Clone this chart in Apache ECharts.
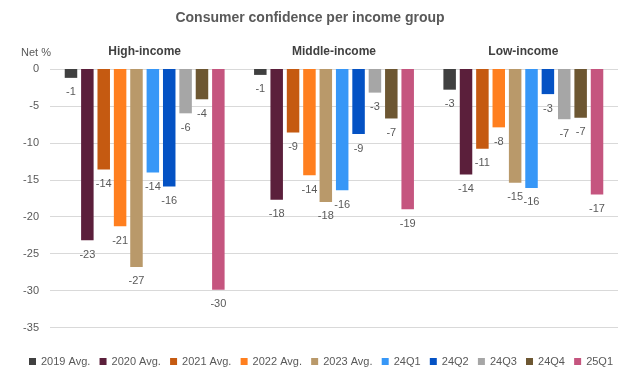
<!DOCTYPE html>
<html>
<head>
<meta charset="utf-8">
<script src="https://cdn.jsdelivr.net/npm/echarts@6/dist/echarts.min.js"></script>
<style>
html,body{margin:0;padding:0;background:#fff;}
#chart{width:620px;height:373px;}
</style>
</head>
<body>
<div id="chart"></div>
<script>
const categories = ['High-income', 'Middle-income', 'Low-income'];
const seriesNames = ['2019 Avg.', '2020 Avg.', '2021 Avg.', '2022 Avg.', '2023 Avg.', '24Q1', '24Q2', '24Q3', '24Q4', '25Q1'];
const highIncome = [-1.2, -23.2, -13.6, -21.3, -26.8, -14.0, -15.9, -6.0, -4.1, -29.9];
const middleIncome = [-0.8, -17.7, -8.6, -14.4, -18.0, -16.4, -8.8, -3.2, -6.7, -19.0];
const lowIncome = [-2.8, -14.3, -10.8, -7.9, -15.4, -16.1, -3.4, -6.8, -6.6, -17.0];
const yTicks = { min: -35, max: 0, interval: 5 };
const colors = ['#404040', '#5b1f3b', '#c55a11', '#ff7f1f', '#b9996a', '#3797f7', '#0452c4', '#a6a6a6', '#6d5732', '#c5557f'];

const groups = [highIncome, middleIncome, lowIncome];
const FONT = 'Liberation Sans, Arial, sans-serif';

const chart = echarts.init(document.getElementById('chart'));
chart.setOption({
  animation: false,
  backgroundColor: '#ffffff',
  color: colors,
  title: {
    text: 'Consumer confidence per income group',
    left: 'center',
    top: 6,
    textStyle: { fontFamily: FONT, fontSize: 14, fontWeight: 'bold', color: '#595959' }
  },
  legend: {
    data: seriesNames,
    left: 29,
    top: 356,
    width: 600,
    padding: 0,
    icon: 'rect',
    itemWidth: 7,
    itemHeight: 7,
    itemGap: 9.2,
    textStyle: { fontFamily: FONT, fontSize: 11, color: '#595959' }
  },
  grid: { left: 50, right: 2, top: 69, bottom: 45.5, containLabel: false },
  xAxis: {
    type: 'category',
    position: 'top',
    data: categories,
    axisLine: { show: false },
    axisTick: { show: false },
    axisLabel: { fontFamily: FONT, fontSize: 12, fontWeight: 'bold', color: '#404040', margin: 11 }
  },
  yAxis: {
    type: 'value',
    min: yTicks.min,
    max: yTicks.max,
    interval: yTicks.interval,
    name: 'Net %',
    nameLocation: 'end',
    nameGap: 11,
    nameTextStyle: { fontFamily: FONT, fontSize: 11, color: '#595959', align: 'right', padding: [0, -1, 0, 0] },
    axisLine: { show: false },
    axisTick: { show: false },
    axisLabel: { fontFamily: FONT, fontSize: 11, color: '#595959', margin: 11 },
    splitLine: { lineStyle: { color: '#d9d9d9', width: 1 } }
  },
  series: seriesNames.map((name, i) => ({
    name: name,
    type: 'bar',
    barWidth: 12.5,
    barGap: '31%',
    data: groups.map(g => g[i]),
    itemStyle: { color: colors[i] },
    label: {
      show: true,
      position: 'bottom',
      distance: 9,
      fontFamily: FONT,
      fontSize: 11,
      color: '#595959',
      formatter: p => String(Math.round(p.value))
    }
  }))
});
</script>
</body>
</html>
